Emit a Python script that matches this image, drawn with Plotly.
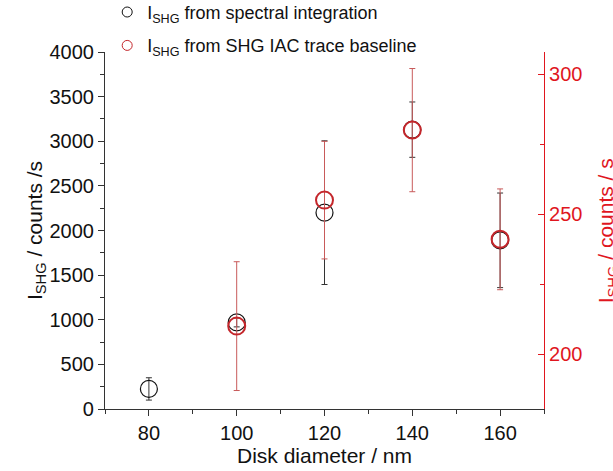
import plotly.graph_objects as go

# Disk diameters (nm)
diam = [80, 100, 120, 140, 160]
# SHG intensity from spectral integration (counts/s) and its uncertainty
spec_int = [225, 970, 2200, 3130, 1890]
spec_err = [125, 50, 805, 310, 530]

# SHG intensity from the IAC trace baseline (counts/s) and its uncertainty
diam_iac = [100, 120, 140, 160]
iac_base = [210, 255, 280, 241]
iac_err = [23, 21, 22, 18]

names = ["I<sub>SHG</sub> from spectral integration",
         "I<sub>SHG</sub> from SHG IAC trace baseline"]

FONT = "Liberation Sans, Arial, sans-serif"
RED = "#e0161e"
MARK_RED = "#c4262b"
BLACK = "#111111"

fig = go.Figure()

fig.add_trace(go.Scatter(
    x=diam, y=spec_int, mode="markers", showlegend=False,
    marker=dict(symbol="circle-open", size=17, color=BLACK,
                line=dict(width=1.2, color=BLACK)),
    error_y=dict(type="data", array=spec_err, visible=True,
                 color="#333333", thickness=1, width=3),
    yaxis="y",
))

fig.add_trace(go.Scatter(
    x=diam_iac, y=iac_base, mode="markers", showlegend=False,
    marker=dict(symbol="circle-open", size=17, color=MARK_RED,
                line=dict(width=2, color=MARK_RED)),
    error_y=dict(type="data", array=iac_err, visible=True,
                 color="#c85a5a", thickness=1, width=3),
    yaxis="y2",
))

# legend entries with small symbols
for i, (nm, col) in enumerate(zip(names, [BLACK, MARK_RED])):
    fig.add_trace(go.Scatter(
        x=[None], y=[None], mode="markers", name=nm,
        legendgroup=f"g{i}",
        marker=dict(symbol="circle-open", size=10, color=col,
                    line=dict(width=1, color=col)),
    ))

fig.update_layout(
    width=613, height=471,
    margin=dict(l=105, r=69, t=52, b=62, autoexpand=False),
    paper_bgcolor="white", plot_bgcolor="white",
    font=dict(family=FONT, size=20, color=BLACK),
    showlegend=True,
    legend=dict(
        x=0.005, y=1.163, xanchor="left", yanchor="top",
        bgcolor="rgba(0,0,0,0)", font=dict(size=18, family=FONT),
        itemsizing="trace", traceorder="grouped", tracegroupgap=7,
    ),
    xaxis=dict(
        range=[70, 170], tickvals=[80, 100, 120, 140, 160],
        ticks="outside", ticklen=6, tickwidth=1, tickcolor="#333333",
        minor=dict(dtick=10, tick0=70, ticks="outside", ticklen=4,
                   tickcolor="#333333"),
        showline=True, linecolor="#333333", linewidth=1.2,
        showgrid=False, zeroline=False,
        title=dict(text="Disk diameter / nm", font=dict(size=21), standoff=4),
    ),
    yaxis=dict(
        range=[0, 4000], dtick=500,
        ticks="outside", ticklen=6, tickwidth=1, tickcolor="#333333",
        minor=dict(dtick=250, ticks="outside", ticklen=4, tickcolor="#333333"),
        showline=True, linecolor="#333333", linewidth=1.2,
        showgrid=False, zeroline=False,
        title=dict(text="I<sub>SHG</sub> / counts /s", font=dict(size=21),
                   standoff=0),
    ),
    yaxis2=dict(
        overlaying="y", side="right",
        range=[180.4, 307.9], tickvals=[200, 250, 300],
        ticks="inside", ticklen=6, tickwidth=1, tickcolor=RED,
        minor=dict(dtick=25, tick0=200, ticks="inside", ticklen=4, tickcolor=RED),
        showline=True, linecolor=RED, linewidth=1.2,
        showgrid=False, zeroline=False,
        tickfont=dict(color=RED, size=20),
    ),
    annotations=[dict(
        text="I<sub>SHG</sub> / counts / s", textangle=-90,
        xref="paper", yref="paper", x=1.143, y=0.5,
        xanchor="center", yanchor="middle", showarrow=False,
        font=dict(color=RED, size=21, family=FONT),
    )],
)

fig.write_html("out.html")
